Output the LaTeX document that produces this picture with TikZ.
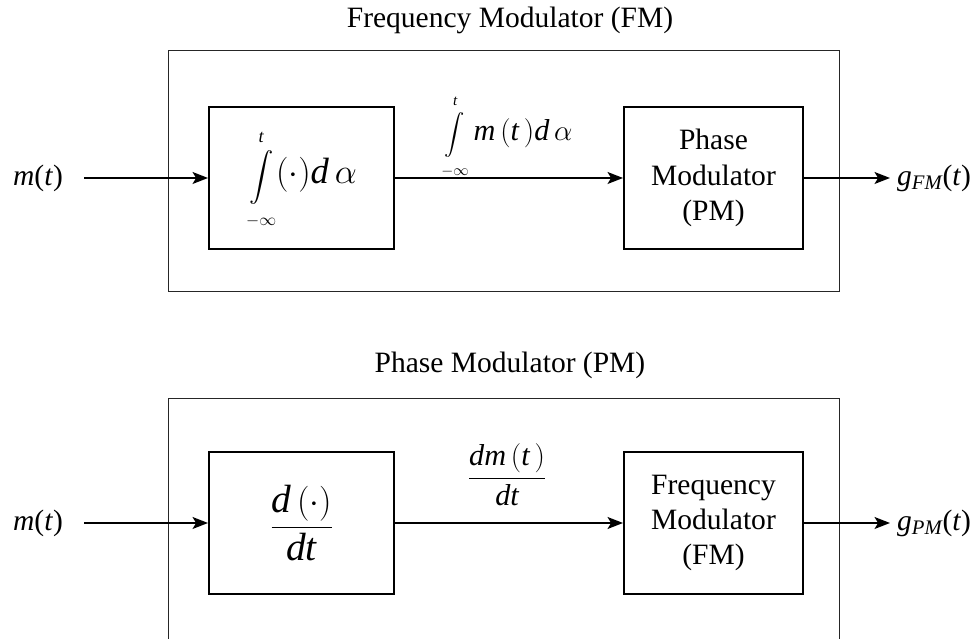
\documentclass[tikz,border=0pt]{standalone}
\usepackage{amsmath}
\usepackage{fontspec}
\setmainfont{Liberation Serif}
\usetikzlibrary{arrows.meta}

\newcommand{\tallint}[1]{\mathop{\text{\fontsize{#1}{#1}\selectfont$\displaystyle\int$}}\limits}

\begin{document}
\begin{tikzpicture}[
                frame/.style={
                    draw=black!85,
                    line width=0.7pt,
                    rectangle,
                    minimum width=16.775cm,
                    minimum height=6.025cm,
                    inner sep=0pt
                },
                block/.style={
                    draw,
                    line width=1.4pt,
                    rectangle,
                    minimum height=3.55cm,
                    align=center,
                    inner sep=0pt,
                    font=\fontsize{21}{25}\selectfont
                },
                title/.style={
                    anchor=base,
                    font=\fontsize{21}{25}\selectfont
                },
                signal/.style={
                    font=\fontsize{21}{25}\selectfont
                },
                eqlabel/.style={
                    font=\fontsize{21.5}{25}\selectfont
                },
                arrow/.style={
                    ->,
                    line width=1.1pt,
                    >={Stealth[length=11pt,width=8.5pt,inset=2.5pt]}
                }
            ]

                \useasboundingbox (0,0) rectangle (24.475,15.975);

                \node[title] (fmtitle) at (12.75,15.275) {Frequency Modulator (FM)};
                \node[frame] (fmframe) at (12.5875,11.6875) {};
                \node[block, minimum width=4.625cm] (intbox) at (7.5375,11.525) {\fontsize{26}{30}\selectfont $\tallint{16.5}_{\scriptscriptstyle -\infty}^{\scriptscriptstyle \vphantom{(}\textit{t}} (\cdot)\textit{d}\,\alpha$};
                \node[block, minimum width=4.475cm] (pmbox) at (17.8375,11.525) {Phase\\Modulator\\(PM)};
                \node[eqlabel] (intlabel) at (12.675,12.59) {$\tallint{15}_{\scriptscriptstyle -\infty}^{\scriptscriptstyle \vphantom{(}\textit{t}} \textit{m}\,(\textit{t}\,)\textit{d}\,\alpha$};
                \node[signal, inner sep=0.525cm] (mfm) at (0.95,11.525) {\textit{m}(\textit{t})};
                \node[signal, anchor=west, inner sep=0.05cm] (gfm) at (22.25,11.525) {\,\textit{g}$_{\textit{FM}}$(\textit{t})};

                \draw[arrow] (mfm) -- (intbox);
                \draw[arrow] (intbox) -- (pmbox);
                \draw[arrow] (pmbox) -- (gfm);

                \node[title] (pmtitle) at (12.75,6.65) {Phase Modulator (PM)};
                \node[frame, minimum height=6.05cm] (pmframe) at (12.5875,2.975) {};
                \node[block, minimum width=4.625cm] (diffbox) at (7.5375,2.9) {\fontsize{28}{32}\selectfont $\dfrac{\textit{d}\,(\cdot)}{\textit{dt}}$};
                \node[block, minimum width=4.475cm] (fmbox) at (17.8375,2.9) {Frequency\\Modulator\\(FM)};
                \node[eqlabel] (difflabel) at (12.675,4.1) {$\dfrac{\textit{dm}\,(\textit{t}\,)}{\textit{dt}}$};
                \node[signal, inner sep=0.525cm] (mpm) at (0.95,2.9) {\textit{m}(\textit{t})};
                \node[signal, anchor=west, inner sep=0.05cm] (gpm) at (22.25,2.9) {\,\textit{g}$_{\textit{PM}}$(\textit{t})};

                \draw[arrow] (mpm) -- (diffbox);
                \draw[arrow] (diffbox) -- (fmbox);
                \draw[arrow] (fmbox) -- (gpm);
        \end{tikzpicture}
\end{document}
